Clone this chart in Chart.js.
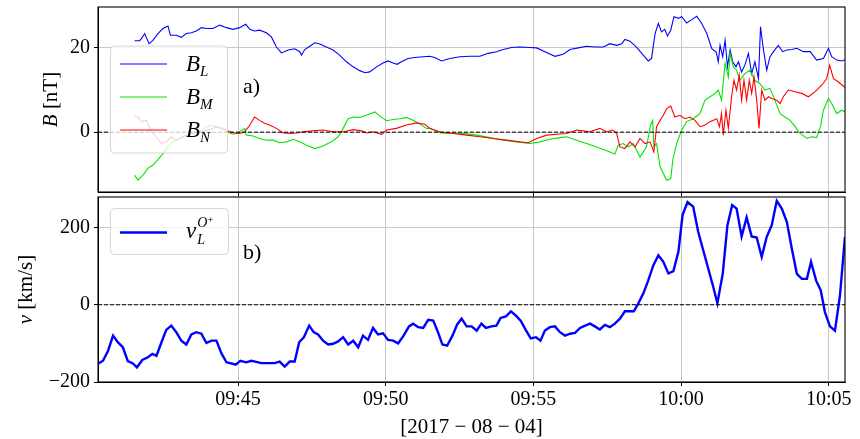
<!DOCTYPE html>
<html>
<head>
<meta charset="utf-8">
<script src="https://cdn.jsdelivr.net/npm/chart.js@4.4.1/dist/chart.umd.min.js"></script>
<style>
html,body{margin:0;padding:0;background:#fff;}
#wrap{position:relative;width:860px;height:439px;overflow:hidden;}
canvas{position:absolute;left:0;}
#c1{top:0;}
#c2{top:190px;}
</style>
</head>
<body>
<div id="wrap">
<canvas id="c1" width="860" height="200"></canvas>
<canvas id="c2" width="860" height="249"></canvas>
</div>
<script>
// x values are minutes after 09:40:00 on 2017-08-04
const tickValues = [5, 10, 15, 20, 25];
const tickLabels = ["09:45", "09:50", "09:55", "10:00", "10:05"];
const xMin = 0.26, xMax = 25.55;

const bLTime = [1.50,1.67,1.73,1.84,1.99,2.12,2.29,2.46,2.63,2.71,2.91,3.08,3.25,3.42,3.59,3.76,3.93,4.15,4.38,4.61,4.83,5.06,5.26,5.40,5.56,5.73,5.96,6.13,6.30,6.47,6.70,6.92,7.09,7.15,7.26,7.43,7.60,7.77,7.99,8.22,8.44,8.67,8.90,9.12,9.30,9.46,9.69,9.91,10.08,10.25,10.39,10.53,10.76,10.98,11.27,
11.49,11.66,11.89,12.17,12.51,12.85,13.19,13.47,13.75,13.98,14.26,14.54,14.88,15.11,15.39,15.73,16.01,16.24,16.52,16.80,17.09,17.37,17.59,17.82,17.99,18.10,18.27,18.49,18.72,18.89,19.00,19.12,19.23,19.34,19.45,19.54,19.65,19.76,19.91,20.02,20.19,20.36,20.53,20.70,20.87,21.04,21.19,21.26,21.32,21.41,21.49,21.57,21.66,21.75,21.86,21.94,22.05,22.16,22.28,22.39,22.50,22.62,22.69,22.79,22.90,23.01,23.13,23.29,23.44,23.58,23.75,23.92,24.14,24.37,24.59,24.82,24.99,25.10,25.27,25.44,25.55];
const bLVal = [21.7,21.7,22.2,23.4,21.0,21.8,23.4,24.6,25.2,23.0,23.0,22.5,23.4,23.6,24.0,24.8,24.6,24.6,25.4,24.8,24.4,24.8,25.6,24.4,24.0,24.2,23.6,22.6,20.2,18.8,19.5,19.8,19.1,18.3,19.6,20.4,21.2,20.9,20.2,19.5,18.3,16.7,15.5,14.6,14.1,14.3,15.5,16.4,16.9,16.4,16.1,16.7,17.5,17.7,17.9,
18.0,17.7,16.9,17.5,17.9,18.0,18.0,18.7,19.1,19.6,20.1,20.2,20.1,20.0,19.1,18.0,18.5,19.6,20.0,20.4,20.2,20.2,21.0,20.6,21.0,22.0,21.6,20.2,18.3,16.9,17.5,23.4,25.8,23.8,24.4,22.8,24.2,27.4,27.0,27.4,25.9,26.7,27.5,25.8,23.4,19.8,19.0,16.7,20.6,17.9,21.8,15.5,19.5,16.7,15.5,16.7,14.3,15.9,18.7,13.9,16.7,12.7,25.0,19.5,14.7,17.9,19.1,20.6,19.1,19.5,19.6,19.9,19.1,19.1,17.1,17.5,19.9,17.9,17.1,16.9,17.2];

const bMTime = [1.50,1.61,1.78,1.95,2.12,2.29,2.46,2.63,2.80,3.02,3.25,3.47,3.70,3.93,4.15,4.38,4.61,4.83,5.00,5.23,5.28,5.51,5.73,5.96,6.19,6.41,6.64,6.87,7.09,7.32,7.60,7.88,8.16,8.39,8.56,8.73,8.90,9.12,9.35,9.63,9.80,10.03,10.25,10.48,10.70,10.93,11.16,11.38,
11.49,11.83,12.17,12.62,13.08,13.53,13.98,14.43,14.88,15.22,15.56,15.90,16.13,16.46,16.80,17.14,17.48,17.76,17.87,18.04,18.21,18.38,18.61,18.83,18.97,19.04,19.08,19.17,19.29,19.40,19.51,19.65,19.72,19.85,20.02,20.19,20.41,20.64,20.81,20.98,21.15,21.26,21.37,21.49,21.60,21.66,21.77,21.88,21.99,22.16,22.33,22.50,22.67,22.84,23.01,23.18,23.35,23.52,23.69,23.86,24.03,24.26,24.42,24.59,24.72,24.82,24.99,25.10,25.27,25.44,25.55];
const bMVal = [-10.2,-11.4,-10.2,-8.6,-7.8,-6.5,-5.1,-3.5,-2.3,-1.5,-0.7,-0.3,0.1,1.3,1.7,0.9,0.1,-0.5,-0.2,0.9,-0.7,-0.9,-1.5,-1.9,-1.9,-2.5,-2.3,-1.7,-2.3,-3.1,-3.9,-3.3,-2.3,-1.1,0.9,3.2,3.6,3.5,4.0,4.8,3.8,2.7,3.0,3.2,3.5,2.8,1.9,0.9,
0.9,-0.2,-0.3,-0.3,-0.7,-1.3,-1.9,-2.3,-2.7,-2.3,-1.7,-1.3,-1.1,-1.9,-2.7,-3.5,-4.4,-5.2,-3.1,-2.7,-3.5,-2.7,-5.9,-3.5,1.7,2.8,-3.5,-2.7,-8.2,-9.8,-11.4,-11.0,-6.6,-2.7,0.5,2.5,3.2,4.4,7.6,8.4,9.2,10.0,7.6,16.3,13.1,18.7,15.5,14.7,12.3,13.9,14.7,12.3,11.5,10.0,10.4,7.6,4.4,3.6,2.8,1.3,-0.3,-1.5,-1.1,-1.3,1.3,5.2,8.0,6.8,4.4,5.2,4.8];

const bNTime = [1.50,1.61,1.73,1.90,2.07,2.23,2.40,2.57,2.74,2.91,3.14,3.36,3.59,3.82,4.04,4.27,4.49,4.72,4.89,5.06,5.23,5.40,5.56,5.73,5.90,6.07,6.30,6.53,6.75,6.98,7.20,7.54,7.88,8.22,8.56,8.90,9.18,9.35,9.57,9.86,10.03,10.36,10.70,11.04,11.32,
11.49,11.83,12.29,12.74,13.19,13.64,14.09,14.54,14.83,15.11,15.45,15.79,16.13,16.46,16.69,16.91,17.25,17.48,17.68,17.82,17.93,18.10,18.27,18.44,18.61,18.78,18.95,19.08,19.17,19.29,19.40,19.51,19.65,19.79,19.96,20.13,20.30,20.47,20.64,20.81,20.98,21.21,21.30,21.37,21.43,21.52,21.60,21.71,21.79,21.88,21.97,22.05,22.13,22.22,22.31,22.39,22.47,22.56,22.64,22.73,22.84,22.96,23.07,23.24,23.35,23.46,23.63,23.86,24.09,24.31,24.54,24.77,24.93,25.03,25.16,25.33,25.55];
const bNVal = [4.0,3.6,2.5,2.8,0.1,-1.1,-2.7,-2.3,-1.1,-1.9,-1.1,-0.3,0.1,0.3,0.6,1.3,0.9,0.1,-0.2,-0.3,0.1,1.7,3.6,2.8,2.1,1.7,0.9,-0.2,-0.3,-0.2,0.1,0.3,0.5,0.1,0.1,0.6,0.3,-0.2,0.1,-0.5,0.5,0.9,1.7,2.2,1.9,
0.9,0.1,-0.3,-0.7,-1.1,-1.5,-1.9,-2.3,-2.5,-1.5,-0.7,-0.5,-0.3,0.5,0.3,0.1,0.9,0.1,0.5,-0.3,-3.5,-3.9,-2.3,-3.5,-1.5,-2.7,-2.3,-4.7,1.3,2.8,4.0,5.6,6.2,3.6,4.0,3.2,3.6,2.8,1.3,1.7,2.5,3.2,1.3,4.4,-0.7,5.2,0.9,8.4,12.3,10.0,13.5,7.6,12.3,7.6,12.3,9.2,13.1,7.6,0.9,10.0,7.6,8.4,8.0,7.6,6.8,8.4,10.0,9.6,9.2,8.4,9.6,11.2,12.7,15.9,12.7,11.9,10.6];

const vTime = [0.26,0.43,0.60,0.77,0.93,1.10,1.27,1.44,1.58,1.76,1.95,2.10,2.24,2.41,2.57,2.74,2.91,3.08,3.25,3.42,3.59,3.76,3.93,4.10,4.27,4.44,4.61,4.78,4.92,5.08,5.28,5.45,5.62,5.79,5.96,6.24,6.41,6.58,6.75,6.92,7.07,7.23,7.41,7.56,7.71,7.88,8.05,8.22,8.39,8.56,8.73,8.90,9.07,9.23,9.40,9.57,9.74,9.91,10.08,10.25,10.42,10.59,10.79,10.93,11.10,11.27,11.44,11.61,11.77,11.92,12.08,12.26,12.42,12.57,12.74,12.91,13.08,13.24,13.39,13.58,13.75,13.89,14.07,14.24,14.41,14.57,14.74,14.91,15.09,15.24,15.39,15.56,15.73,15.90,16.07,16.24,16.41,16.58,16.75,16.92,17.08,17.25,17.42,17.59,17.76,17.93,18.10,18.27,18.40,18.55,18.72,18.89,19.06,19.23,19.40,19.57,19.74,19.91,20.05,20.22,20.41,20.58,20.75,20.92,21.09,21.23,21.41,21.57,21.73,21.88,22.05,22.22,22.39,22.56,22.73,22.90,23.07,23.24,23.41,23.58,23.75,23.92,24.09,24.26,24.40,24.57,24.73,24.87,25.04,25.21,25.38,25.55];
const vVal = [-153,-145,-119,-80,-97,-110,-146,-152,-162,-143,-136,-127,-132,-97,-65,-54,-71,-93,-103,-77,-71,-75,-99,-93,-93,-126,-149,-152,-155,-145,-149,-145,-148,-151,-151,-151,-147,-160,-147,-147,-97,-84,-54,-71,-77,-93,-103,-101,-95,-84,-103,-93,-110,-80,-91,-60,-77,-74,-91,-93,-100,-82,-56,-49,-58,-60,-39,-41,-71,-103,-106,-80,-51,-36,-56,-56,-67,-49,-60,-56,-54,-34,-30,-17,-28,-41,-65,-87,-84,-93,-67,-58,-56,-71,-80,-75,-73,-60,-54,-49,-56,-64,-52,-58,-49,-36,-17,-17,-17,3,29,63,102,128,111,81,87,137,232,266,254,189,141,94,46,4,80,206,258,249,177,226,177,174,124,176,206,269,249,215,145,80,67,67,111,63,37,-19,-56,-67,24,176];

const zeroLine = [0, 0];

const SERIF = "'Liberation Serif','DejaVu Serif',serif";
const GRID = '#c8c8c8';
const TICKFONT = {family: SERIF, size: 20};

function pts(t, v){ return t.map((x,i)=>({x:x, y:v[i]})); }

function drawParts(ctx, x, y, parts){
  ctx.textBaseline = 'alphabetic';
  ctx.textAlign = 'left';
  let cx = x;
  for (const p of parts){
    ctx.font = p.f;
    ctx.fillText(p.t, cx, y + (p.dy||0));
    const w = ctx.measureText(p.t).width;
    cx += w + (p.dx||0);
  }
  return cx;
}

function roundRect(ctx,x,y,w,h,r){
  ctx.beginPath();
  ctx.moveTo(x+r,y); ctx.lineTo(x+w-r,y); ctx.quadraticCurveTo(x+w,y,x+w,y+r);
  ctx.lineTo(x+w,y+h-r); ctx.quadraticCurveTo(x+w,y+h,x+w-r,y+h);
  ctx.lineTo(x+r,y+h); ctx.quadraticCurveTo(x,y+h,x,y+h-r);
  ctx.lineTo(x,y+r); ctx.quadraticCurveTo(x,y,x+r,y); ctx.closePath();
}

const frame = {
  id:'frame',
  afterDraw(chart){
    const a = chart.chartArea, ctx = chart.ctx;
    ctx.save();
    ctx.strokeStyle = '#000'; ctx.lineWidth = 1.1;
    ctx.strokeRect(a.left, a.top, a.right-a.left, a.bottom-a.top);
    ctx.restore();
  }
};

function legendBox(ctx, x, y, w, h){
  ctx.save();
  roundRect(ctx, x, y, w, h, 4);
  ctx.fillStyle = 'rgba(255,255,255,0.8)';
  ctx.fill();
  ctx.strokeStyle = 'rgba(204,204,204,0.8)';
  ctx.lineWidth = 1;
  ctx.stroke();
  ctx.restore();
}

const topDeco = {
  id:'topDeco',
  afterDatasetsDraw(chart){
    const ctx = chart.ctx;
    legendBox(ctx, 110.5, 46, 117, 107);
    const entries = [['L','#0000ff',64],['M','#00e600',97],['N','#ff0000',130]];
    ctx.save();
    for (const [s,c,y] of entries){
      ctx.strokeStyle = c; ctx.lineWidth = 1.2;
      ctx.beginPath(); ctx.moveTo(120,y); ctx.lineTo(167,y); ctx.stroke();
      ctx.fillStyle = '#000';
      drawParts(ctx, 186, y+7, [
        {t:'B', f:'italic 23px '+SERIF, dx:0},
        {t:s, f:'italic 15px '+SERIF, dy:5}
      ]);
    }
    ctx.fillStyle = '#000';
    drawParts(ctx, 243, 93, [{t:'a)', f:'22px '+SERIF}]);
    ctx.translate(57, 99.5);
    ctx.rotate(-Math.PI/2);
    ctx.font = 'italic 21px '+SERIF;
    const w1 = ctx.measureText('B ').width;
    ctx.font = '21px '+SERIF;
    const w2 = ctx.measureText('[nT]').width;
    drawParts(ctx, -(w1+w2)/2, 0, [
      {t:'B ', f:'italic 21px '+SERIF},
      {t:'[nT]', f:'21px '+SERIF}
    ]);
    ctx.restore();
  }
};

const botDeco = {
  id:'botDeco',
  afterDatasetsDraw(chart){
    const ctx = chart.ctx;
    const off = 190;
    legendBox(ctx, 110.5, 208.5-off, 118, 46);
    ctx.save();
    ctx.strokeStyle = '#0000ff'; ctx.lineWidth = 2.4;
    ctx.beginPath(); ctx.moveTo(120,232.5-off); ctx.lineTo(167,232.5-off); ctx.stroke();
    ctx.fillStyle = '#000';
    const base = 238-off;
    ctx.font = 'italic 23px '+SERIF;
    ctx.fillText('v', 186, base);
    const vw = ctx.measureText('v').width;
    drawParts(ctx, 186+vw+1, base-11, [
      {t:'O', f:'italic 14px '+SERIF},
      {t:'+', f:'11px '+SERIF, dy:-4}
    ]);
    drawParts(ctx, 186+vw+1, base+6, [{t:'L', f:'italic 14px '+SERIF}]);
    drawParts(ctx, 243, 259-off, [{t:'b)', f:'22px '+SERIF}]);
    ctx.font = '21px '+SERIF;
    ctx.textAlign = 'center'; ctx.textBaseline = 'middle';
    ctx.fillText('[2017 \u2212 08 \u2212 04]', 471.5, 427-off);
    ctx.translate(32, 99.5);
    ctx.rotate(-Math.PI/2);
    ctx.font = 'italic 21px '+SERIF;
    const w1 = ctx.measureText('v ').width;
    ctx.font = '21px '+SERIF;
    const w2 = ctx.measureText('[km/s]').width;
    drawParts(ctx, -(w1+w2)/2, 0, [
      {t:'v ', f:'italic 21px '+SERIF},
      {t:'[km/s]', f:'21px '+SERIF}
    ]);
    ctx.restore();
  }
};

function xScale(showLabels, height){
  return {
    type:'linear', min:xMin, max:xMax,
    afterBuildTicks:s=>{ s.ticks = tickValues.map(v=>({value:v})); },
    ticks:{display:showLabels, font:TICKFONT, color:'#000', padding:2, maxRotation:0,
      callback:(v)=>{ const i = tickValues.indexOf(v); return i>=0 ? tickLabels[i] : ''; }},
    grid:{color:GRID, lineWidth:1, drawTicks:true, tickLength:4, tickColor:'#000'},
    border:{display:true, color:'#000', width:1},
    afterFit:s=>{ s.height = height; s.paddingLeft = 0; s.paddingRight = 0; }
  };
}
function yScale(min, max, ticks){
  return {
    min:min, max:max,
    afterBuildTicks:s=>{ s.ticks = ticks.map(v=>({value:v})); },
    ticks:{font:TICKFONT, color:'#000', padding:4,
      callback:(v)=> (v<0 ? '\u2212'+Math.abs(v) : String(v))},
    grid:{color:GRID, lineWidth:1, drawTicks:true, tickLength:4, tickColor:'#000'},
    border:{display:true, color:'#000', width:1},
    afterFit:s=>{ s.width = 98; s.paddingTop = 0; s.paddingBottom = 0; }
  };
}

const common = {
  responsive:false, animation:false, devicePixelRatio:1,
  plugins:{legend:{display:false}, tooltip:{enabled:false}},
  elements:{point:{radius:0}, line:{tension:0}}
};

new Chart(document.getElementById('c1'), {
  type:'line',
  data:{datasets:[
    {data:pts(bLTime,bLVal), borderColor:'#0000ff', borderWidth:1.1, order:3},
    {data:pts(bMTime,bMVal), borderColor:'#00e600', borderWidth:1.1, order:2},
    {data:pts(bNTime,bNVal), borderColor:'#ff0000', borderWidth:1.1, order:1},
    {data:pts([xMin,xMax], zeroLine), borderColor:'#000', borderWidth:1, borderDash:[4,2], order:0}
  ]},
  options:Object.assign({}, common, {
    layout:{padding:{left:0, right:15, top:7, bottom:0}},
    scales:{ x:xScale(false, 8), y:yScale(-14.2, 29.7, [0,20]) }
  }),
  plugins:[topDeco, frame]
});

new Chart(document.getElementById('c2'), {
  type:'line',
  data:{datasets:[
    {data:pts(vTime,vVal), borderColor:'#0000ff', borderWidth:2.4, order:1},
    {data:pts([xMin,xMax], zeroLine), borderColor:'#000', borderWidth:1, borderDash:[4,2], order:0}
  ]},
  options:Object.assign({}, common, {
    layout:{padding:{left:0, right:15, top:7, bottom:0}},
    scales:{ x:xScale(true, 57), y:yScale(-200, 279, [-200,0,200]) }
  }),
  plugins:[botDeco, frame]
});
</script>
</body>
</html>
